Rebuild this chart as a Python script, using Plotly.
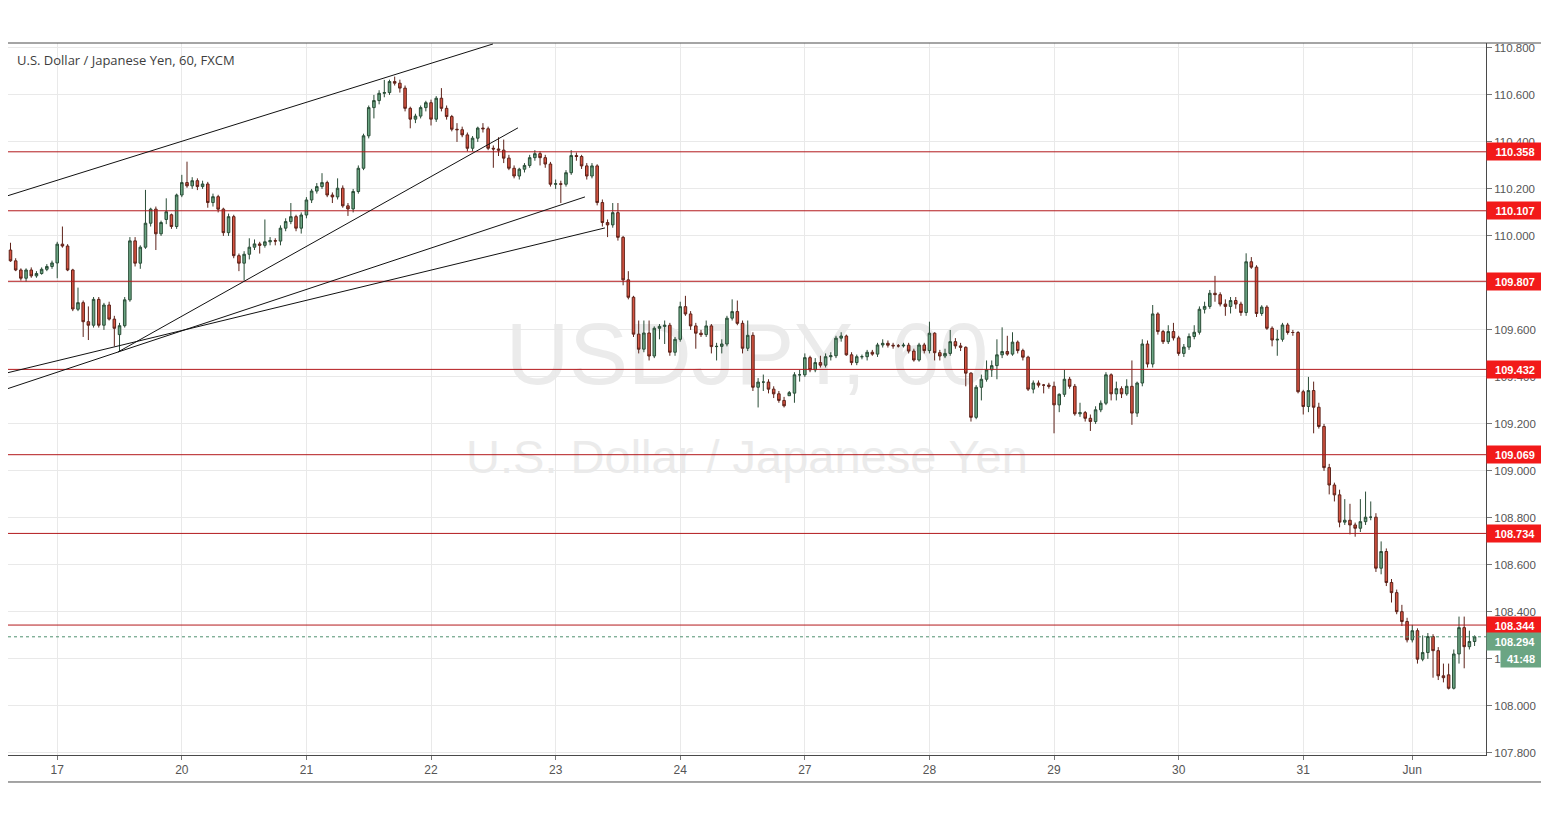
import plotly.graph_objects as go

# ---------------- data (hourly bars) ----------------
open_ = [
    109.940,109.894,109.855,109.820,109.855,109.830,109.840,109.858,109.870,109.885,
    109.965,109.957,109.855,109.688,109.716,109.635,109.620,109.730,109.620,109.706,
    109.646,109.580,109.618,109.728,109.979,109.884,109.952,110.054,110.114,110.009,
    110.070,110.090,110.040,110.174,110.227,110.213,110.235,110.210,110.221,110.142,
    110.167,110.114,110.014,110.082,109.916,109.884,109.922,109.952,109.966,109.960,
    109.975,109.980,109.978,110.033,110.061,110.082,110.033,110.089,110.153,110.191,
    110.210,110.227,110.174,110.166,110.203,110.128,110.115,110.189,110.288,110.426,
    110.546,110.576,110.607,110.610,110.657,110.650,110.629,110.543,110.497,110.510,
    110.546,110.567,110.497,110.586,110.543,110.508,110.454,110.452,110.430,110.373,
    110.416,110.459,110.456,110.373,110.370,110.365,110.331,110.288,110.255,110.284,
    110.300,110.333,110.350,110.333,110.306,110.220,110.222,110.220,110.269,110.342,
    110.338,110.298,110.255,110.298,110.142,110.057,110.047,110.099,109.994,109.813,
    109.739,109.582,109.518,109.587,109.489,109.607,109.615,109.620,109.505,109.560,
    109.699,109.668,109.617,109.586,109.580,109.617,109.529,109.530,109.540,109.650,
    109.678,109.628,109.522,109.577,109.356,109.378,109.378,109.348,109.328,109.300,
    109.320,109.331,109.409,109.409,109.482,109.430,109.461,109.450,109.486,109.490,
    109.565,109.574,109.494,109.461,109.486,109.486,109.505,109.497,109.536,109.543,
    109.535,109.532,109.532,109.535,109.510,109.472,109.536,109.512,109.586,109.503,
    109.489,109.500,109.550,109.532,109.526,109.416,109.228,109.356,109.390,109.430,
    109.448,109.494,109.508,109.497,109.548,109.512,109.484,109.348,109.374,109.365,
    109.365,109.360,109.281,109.326,109.390,109.360,109.243,109.248,109.224,109.210,
    109.260,109.288,109.409,109.328,109.350,109.328,109.360,109.246,109.374,109.540,
    109.455,109.668,109.593,109.550,109.593,109.566,109.500,109.527,109.572,109.590,
    109.688,109.700,109.756,109.750,109.710,109.700,109.725,109.710,109.674,109.890,
    109.867,109.670,109.697,109.607,109.557,109.560,109.621,109.589,109.589,109.337,
    109.274,109.342,109.271,109.189,109.014,108.940,108.898,108.782,108.790,108.770,
    108.756,108.784,108.803,108.803,108.586,108.657,108.525,108.482,108.401,108.359,
    108.281,108.320,108.199,108.227,108.295,108.235,108.128,108.132,108.075,108.221,
    108.333,108.252,108.274,
]
high = [
    109.971,109.905,109.862,109.862,109.866,109.850,109.866,109.880,109.895,109.975,
    110.040,109.965,109.860,109.780,109.725,109.700,109.740,109.740,109.715,109.720,
    109.660,109.630,109.740,109.995,109.995,109.960,110.196,110.120,110.125,110.065,
    110.160,110.095,110.180,110.260,110.316,110.250,110.245,110.235,110.230,110.180,
    110.175,110.120,110.095,110.090,109.925,109.935,109.990,109.985,109.975,110.070,
    109.995,109.990,110.045,110.075,110.140,110.090,110.100,110.165,110.200,110.225,
    110.267,110.235,110.185,110.245,110.215,110.140,110.200,110.300,110.435,110.555,
    110.600,110.620,110.664,110.665,110.678,110.665,110.640,110.550,110.520,110.555,
    110.575,110.580,110.595,110.629,110.555,110.515,110.480,110.465,110.440,110.425,
    110.465,110.480,110.465,110.385,110.420,110.410,110.345,110.300,110.290,110.310,
    110.345,110.365,110.360,110.345,110.315,110.240,110.235,110.280,110.365,110.355,
    110.345,110.310,110.310,110.305,110.155,110.070,110.140,110.140,110.000,109.850,
    109.745,109.640,109.640,109.640,109.615,109.625,109.640,109.630,109.570,109.720,
    109.745,109.680,109.630,109.600,109.640,109.625,109.545,109.560,109.660,109.730,
    109.725,109.640,109.640,109.590,109.395,109.410,109.390,109.360,109.340,109.315,
    109.340,109.420,109.430,109.500,109.490,109.480,109.490,109.500,109.505,109.575,
    109.590,109.580,109.505,109.495,109.495,109.515,109.515,109.545,109.560,109.555,
    109.545,109.540,109.545,109.545,109.520,109.545,109.545,109.635,109.590,109.515,
    109.520,109.600,109.565,109.545,109.530,109.420,109.365,109.410,109.470,109.470,
    109.560,109.611,109.575,109.590,109.555,109.520,109.490,109.385,109.385,109.370,
    109.375,109.380,109.330,109.430,109.400,109.370,109.290,109.255,109.240,109.275,
    109.300,109.420,109.415,109.380,109.360,109.390,109.470,109.380,109.560,109.555,
    109.706,109.675,109.600,109.620,109.630,109.575,109.540,109.585,109.620,109.700,
    109.720,109.770,109.830,109.760,109.730,109.740,109.740,109.720,109.926,109.910,
    109.875,109.705,109.705,109.615,109.600,109.630,109.630,109.600,109.595,109.345,
    109.400,109.380,109.290,109.200,109.030,108.950,108.920,108.880,108.860,108.780,
    108.880,108.912,108.870,108.820,108.700,108.670,108.540,108.495,108.430,108.375,
    108.345,108.330,108.300,108.310,108.305,108.250,108.180,108.180,108.240,108.380,
    108.380,108.320,108.300,
]
low = [
    109.890,109.850,109.810,109.806,109.822,109.822,109.835,109.850,109.860,109.820,
    109.950,109.850,109.680,109.680,109.570,109.557,109.610,109.610,109.600,109.640,
    109.530,109.508,109.610,109.720,109.870,109.860,109.945,110.040,109.940,110.000,
    110.050,110.030,110.030,110.165,110.205,110.200,110.195,110.200,110.120,110.125,
    110.100,110.000,110.000,109.905,109.850,109.810,109.900,109.940,109.925,109.950,
    109.960,109.960,109.960,110.020,110.050,110.020,110.010,110.075,110.140,110.180,
    110.200,110.165,110.140,110.155,110.120,110.085,110.100,110.180,110.280,110.415,
    110.500,110.560,110.590,110.600,110.640,110.610,110.530,110.458,110.480,110.500,
    110.530,110.470,110.485,110.530,110.495,110.445,110.400,110.420,110.360,110.360,
    110.400,110.440,110.365,110.290,110.340,110.310,110.280,110.245,110.240,110.270,
    110.290,110.320,110.300,110.290,110.210,110.200,110.140,110.210,110.260,110.320,
    110.285,110.240,110.245,110.130,110.040,109.995,110.035,109.980,109.790,109.730,
    109.570,109.500,109.505,109.470,109.480,109.560,109.540,109.490,109.490,109.550,
    109.660,109.600,109.520,109.570,109.570,109.500,109.470,109.500,109.530,109.640,
    109.620,109.500,109.510,109.340,109.270,109.340,109.330,109.310,109.290,109.270,
    109.320,109.290,109.380,109.400,109.420,109.420,109.440,109.440,109.470,109.480,
    109.550,109.490,109.450,109.450,109.475,109.470,109.490,109.485,109.525,109.525,
    109.520,109.525,109.525,109.500,109.465,109.465,109.500,109.500,109.470,109.470,
    109.480,109.490,109.520,109.510,109.360,109.210,109.220,109.300,109.380,109.400,
    109.390,109.480,109.490,109.490,109.500,109.470,109.340,109.330,109.355,109.330,
    109.350,109.160,109.250,109.315,109.350,109.235,109.230,109.210,109.170,109.200,
    109.250,109.280,109.300,109.300,109.310,109.320,109.196,109.230,109.360,109.440,
    109.440,109.580,109.540,109.540,109.555,109.490,109.485,109.515,109.560,109.580,
    109.670,109.690,109.720,109.700,109.660,109.670,109.690,109.660,109.660,109.860,
    109.655,109.660,109.600,109.530,109.490,109.550,109.580,109.575,109.330,109.240,
    109.250,109.160,109.180,109.000,108.900,108.870,108.760,108.770,108.730,108.720,
    108.740,108.770,108.790,108.570,108.560,108.510,108.440,108.390,108.340,108.270,
    108.270,108.180,108.190,108.200,108.120,108.110,108.100,108.070,108.070,108.180,
    108.160,108.240,108.255,
]
close = [
    109.894,109.855,109.820,109.855,109.830,109.840,109.858,109.870,109.885,109.965,
    109.957,109.855,109.689,109.716,109.635,109.620,109.730,109.620,109.706,109.646,
    109.607,109.618,109.728,109.979,109.884,109.952,110.054,110.114,110.009,110.057,
    110.103,110.040,110.174,110.227,110.213,110.235,110.210,110.221,110.142,110.167,
    110.114,110.014,110.082,109.916,109.884,109.922,109.952,109.966,109.960,109.975,
    109.980,109.978,110.033,110.061,110.082,110.033,110.089,110.153,110.191,110.210,
    110.227,110.174,110.166,110.203,110.128,110.115,110.189,110.288,110.426,110.546,
    110.576,110.607,110.610,110.657,110.650,110.629,110.543,110.497,110.510,110.546,
    110.567,110.497,110.586,110.543,110.508,110.454,110.452,110.430,110.373,110.416,
    110.459,110.456,110.373,110.370,110.365,110.331,110.288,110.255,110.284,110.300,
    110.333,110.350,110.333,110.306,110.220,110.222,110.220,110.269,110.342,110.338,
    110.298,110.255,110.298,110.142,110.057,110.047,110.099,109.994,109.813,109.739,
    109.582,109.518,109.587,109.489,109.607,109.615,109.620,109.505,109.560,109.699,
    109.668,109.617,109.586,109.580,109.617,109.529,109.530,109.540,109.650,109.678,
    109.628,109.522,109.577,109.356,109.378,109.378,109.348,109.328,109.300,109.277,
    109.333,109.409,109.409,109.482,109.430,109.461,109.450,109.486,109.490,109.565,
    109.574,109.494,109.461,109.486,109.486,109.505,109.497,109.536,109.543,109.535,
    109.532,109.532,109.535,109.510,109.472,109.536,109.512,109.586,109.503,109.489,
    109.500,109.550,109.532,109.526,109.416,109.228,109.356,109.390,109.430,109.448,
    109.494,109.508,109.497,109.548,109.512,109.484,109.348,109.374,109.365,109.365,
    109.360,109.281,109.326,109.390,109.360,109.243,109.248,109.224,109.210,109.260,
    109.288,109.409,109.328,109.350,109.328,109.360,109.246,109.374,109.540,109.455,
    109.668,109.593,109.550,109.593,109.566,109.500,109.527,109.572,109.590,109.688,
    109.700,109.756,109.750,109.710,109.700,109.725,109.710,109.674,109.890,109.867,
    109.670,109.697,109.607,109.557,109.560,109.621,109.589,109.589,109.337,109.274,
    109.342,109.271,109.189,109.014,108.940,108.898,108.782,108.790,108.770,108.756,
    108.784,108.803,108.803,108.586,108.657,108.525,108.482,108.401,108.359,108.281,
    108.320,108.199,108.227,108.295,108.235,108.128,108.120,108.075,108.221,108.333,
    108.252,108.274,108.294,
]
bar_index = list(range(len(close)))

day_tick_bars = [9, 33, 57, 81, 105, 129, 153, 177, 201, 225, 249, 270]
day_tick_labels = ["17", "20", "21", "22", "23", "24", "27", "28", "29", "30", "31", "Jun"]

levels = [110.358, 110.107, 109.807, 109.432, 109.069, 108.734, 108.344]
last_price = 108.294
countdown = "41:48"

# trend lines: (bar0, price0, bar1, price1)
trendlines = [
    (-0.67, 110.170, 92.93, 110.817),
    (20.7, 109.506, 97.75, 110.460),
    (-0.67, 109.349, 110.65, 110.166),
    (-0.67, 109.417, 114.5, 110.034),
]

title_text = "U.S. Dollar / Japanese Yen, 60, FXCM"
watermark_big = "USDJPY, 60"
watermark_small = "U.S. Dollar / Japanese Yen"

# ---------------- figure ----------------
UP_FILL, UP_LINE = "#6ba583", "#2a4d37"
DN_FILL, DN_LINE = "#d75442", "#5e2219"
LEVEL_COLOR = "#b3191c"
LABEL_RED = "#f21a1a"
LABEL_GREEN = "#6ba583"
AXIS_FONT = "Liberation Sans Narrow, Arial Narrow, Liberation Sans, Arial"

fig = go.Figure()
fig.add_trace(go.Candlestick(
    x=bar_index, open=open_, high=high, low=low, close=close,
    increasing=dict(fillcolor=UP_FILL, line=dict(color=UP_LINE, width=1)),
    decreasing=dict(fillcolor=DN_FILL, line=dict(color=DN_LINE, width=1)),
    whiskerwidth=0, hoverinfo="skip", showlegend=False,
))

shapes = []
# watermark (behind everything)
shapes.append(dict(type="rect", xref="paper", yref="paper", x0=0.25, x1=0.75, y0=0.51, y1=0.64,
                   line=dict(width=0), fillcolor="rgba(0,0,0,0)", layer="below",
                   label=dict(text=watermark_big, textposition="middle center",
                              font=dict(size=88, color="#ebebeb", family="Liberation Sans, Arial"))))
shapes.append(dict(type="rect", xref="paper", yref="paper", x0=0.25, x1=0.75, y0=0.385, y1=0.465,
                   line=dict(width=0), fillcolor="rgba(0,0,0,0)", layer="below",
                   label=dict(text=watermark_small, textposition="middle center",
                              font=dict(size=47, color="#ebebeb", family="Liberation Sans, Arial"))))
# horizontal levels
for lv in levels:
    shapes.append(dict(type="line", xref="paper", yref="y", x0=0, x1=1, y0=lv, y1=lv,
                       line=dict(color=LEVEL_COLOR, width=1)))
# last price dotted line
shapes.append(dict(type="line", xref="paper", yref="y", x0=0, x1=1, y0=last_price, y1=last_price,
                   line=dict(color="#4f9070", width=1, dash="dot")))
# trend lines
for (b0, p0, b1, p1) in trendlines:
    shapes.append(dict(type="line", xref="x", yref="y", x0=b0, y0=p0, x1=b1, y1=p1,
                       line=dict(color="#111111", width=1)))
# outer frame
shapes.append(dict(type="rect", xref="paper", yref="paper", x0=-0.002, x1=1.0379, y0=-0.0379, y1=1.0,
                   line=dict(color="#4a4a4a", width=1), fillcolor="rgba(0,0,0,0)", layer="above"))

annotations = []
annotations.append(dict(text=title_text, xref="paper", yref="paper", x=0.0047, y=0.976,
                        xanchor="left", yanchor="middle", showarrow=False,
                        font=dict(size=13, color="#3d3d3d", family="Open Sans, Liberation Sans")))
for lv in levels:
    annotations.append(dict(text="<b>%.3f</b>" % lv, xref="paper", yref="y", x=1, y=lv,
                            xanchor="left", yanchor="middle", showarrow=False,
                            bgcolor=LABEL_RED, width=54, height=15, borderpad=1, align="center",
                            font=dict(size=11, color="white", family="Liberation Sans, Arial")))
annotations.append(dict(text="<b>%.3f</b>" % last_price, xref="paper", yref="y", x=1, y=last_price,
                        yshift=-5, xanchor="left", yanchor="middle", showarrow=False,
                        bgcolor=LABEL_GREEN, width=54, height=15, borderpad=1, align="center",
                        font=dict(size=11, color="white", family="Liberation Sans, Arial")))
annotations.append(dict(text="<b>%s</b>" % countdown, xref="paper", yref="y", x=1.0379, y=last_price,
                        yshift=-22, xanchor="right", yanchor="middle", showarrow=False,
                        bgcolor=LABEL_GREEN, width=38, height=15, borderpad=1, align="center",
                        font=dict(size=11, color="white", family="Liberation Sans, Arial")))

fig.update_layout(
    width=1541, height=811,
    margin=dict(l=0, r=63, t=35, b=64),
    paper_bgcolor="white", plot_bgcolor="white",
    shapes=shapes, annotations=annotations,
    showlegend=False, hovermode=False,
    xaxis=dict(
        range=[-0.48, 284.2], rangeslider=dict(visible=False),
        tickmode="array", tickvals=day_tick_bars, ticktext=day_tick_labels,
        showgrid=True, gridcolor="#e9e9e9", gridwidth=1, zeroline=False,
        showline=True, linecolor="#4a4a4a", linewidth=1,
        ticks="outside", ticklen=4, tickcolor="#777777",
        tickfont=dict(size=12, color="#555555", family=AXIS_FONT),
    ),
    yaxis=dict(
        side="right", range=[107.791, 110.821],
        tick0=107.8, dtick=0.2, tickformat=".3f",
        showgrid=True, gridcolor="#e9e9e9", gridwidth=1, zeroline=False,
        showline=True, linecolor="#4a4a4a", linewidth=1,
        ticks="outside", ticklen=5, tickcolor="#777777",
        tickfont=dict(size=11.5, color="#555555", family=AXIS_FONT),
    ),
)

fig.write_html("out.html")
